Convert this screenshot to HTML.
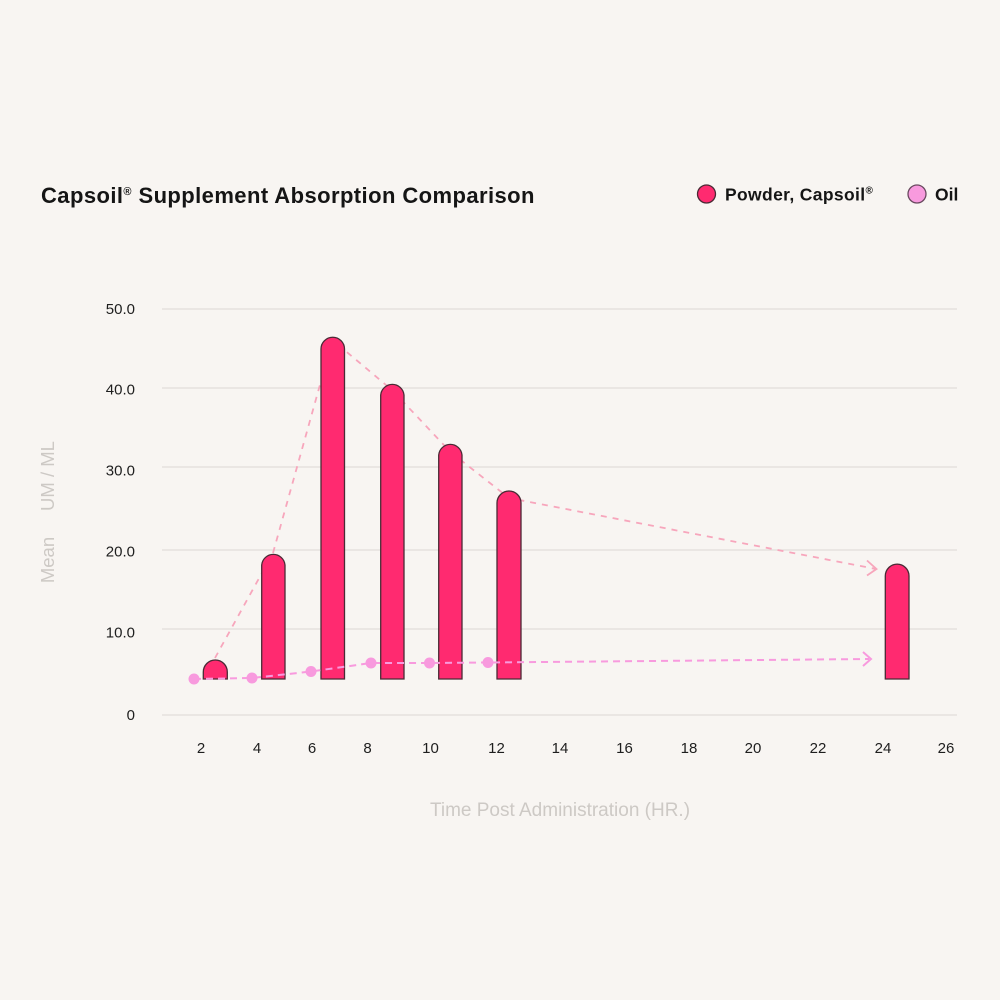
<!DOCTYPE html>
<html><head><meta charset="utf-8"><style>
html,body{margin:0;padding:0;background:#f8f5f2;}
svg{display:block;}
text{font-family:"Liberation Sans",Arial,sans-serif;}
</style></head><body>
<svg width="1000" height="1000" viewBox="0 0 1000 1000" xmlns="http://www.w3.org/2000/svg">
<rect width="1000" height="1000" fill="#f8f5f2"/>
<!-- title -->
<text x="41" y="203" font-size="22" font-weight="bold" fill="#151515" letter-spacing="0.42">Capsoil<tspan font-size="11" dy="-8">®</tspan><tspan dy="8"> Supplement Absorption Comparison</tspan></text>
<!-- legend -->
<circle cx="706.5" cy="194" r="9" fill="#ff2a70" stroke="#4a2a35" stroke-width="1.3"/>
<text x="725" y="200.5" font-size="17.5" font-weight="bold" fill="#151515" letter-spacing="0.35">Powder, Capsoil<tspan font-size="10" dy="-7">®</tspan></text>
<circle cx="917" cy="194" r="9" fill="#f89ade" stroke="#6a4a60" stroke-width="1.3"/>
<text x="935" y="200.5" font-size="17.5" font-weight="bold" fill="#151515">Oil</text>
<!-- gridlines -->
<g stroke="#e6e2de" stroke-width="1.5">
<line x1="162" y1="309" x2="957" y2="309"/>
<line x1="162" y1="388" x2="957" y2="388"/>
<line x1="162" y1="467" x2="957" y2="467"/>
<line x1="162" y1="550" x2="957" y2="550"/>
<line x1="162" y1="629" x2="957" y2="629"/>
<line x1="162" y1="715" x2="957" y2="715"/>
</g>
<!-- y tick labels -->
<g font-size="15" fill="#1e1e1e" text-anchor="end">
<text x="135" y="314">50.0</text>
<text x="135" y="394.5">40.0</text>
<text x="135" y="475.5">30.0</text>
<text x="135" y="556.5">20.0</text>
<text x="135" y="637.5">10.0</text>
<text x="135" y="720">0</text>
</g>
<!-- x tick labels -->
<g font-size="15" fill="#1e1e1e" text-anchor="middle">
<text x="201" y="753">2</text>
<text x="257" y="753">4</text>
<text x="312" y="753">6</text>
<text x="367.5" y="753">8</text>
<text x="430.5" y="753">10</text>
<text x="496.5" y="753">12</text>
<text x="560" y="753">14</text>
<text x="624.5" y="753">16</text>
<text x="689" y="753">18</text>
<text x="753" y="753">20</text>
<text x="818" y="753">22</text>
<text x="883" y="753">24</text>
<text x="946" y="753">26</text>
</g>
<!-- axis titles -->
<text x="560" y="816" font-size="19" fill="#cdc9c5" text-anchor="middle">Time Post Administration (HR.)</text>
<text transform="translate(54,560) rotate(-90)" font-size="18.5" fill="#cdc9c5" text-anchor="middle">Mean</text>
<text transform="translate(54,476) rotate(-90)" font-size="18.5" fill="#cdc9c5" text-anchor="middle">UM / ML</text>
<!-- powder line (behind bars) -->
<polyline points="215,658 273,553 332.5,340 392,390 450.5,452 509,498 876,569" fill="none" stroke="#f7a6bc" stroke-width="1.8" stroke-dasharray="6,6"/>
<polyline points="867,560.5 876.5,569 867,575.5" fill="none" stroke="#f7a6bc" stroke-width="1.8"/>
<!-- bars -->
<g fill="#ff2a70" stroke="#4a2a35" stroke-width="1.3">
<path d="M203.3,679 V672 A12,12 0 0 1 227.3,672 V679 Z"/>
<path d="M261.7,679 V565 A11.7,11.7 0 0 1 285,565 V679 Z"/>
<path d="M321,679 V349 A11.75,11.75 0 0 1 344.5,349 V679 Z"/>
<path d="M380.7,679 V395 A11.7,11.7 0 0 1 404,395 V679 Z"/>
<path d="M438.7,679 V455 A11.7,11.7 0 0 1 462,455 V679 Z"/>
<path d="M497,679 V503 A12,12 0 0 1 521,503 V679 Z"/>
<path d="M885.3,679 V576 A11.85,11.85 0 0 1 909,576 V679 Z"/>
</g>
<!-- oil line (on top) -->
<polyline points="194,679 252,678 311,671.5 371,663 429.5,663 488,662.5 869,659" fill="none" stroke="#f89ade" stroke-width="2" stroke-dasharray="7,5"/>
<polyline points="863,652 871,659 863,666" fill="none" stroke="#f89ade" stroke-width="2"/>
<g fill="#f89ade">
<circle cx="194" cy="679" r="5.5"/>
<circle cx="252" cy="678" r="5.5"/>
<circle cx="311" cy="671.5" r="5.5"/>
<circle cx="371" cy="663" r="5.5"/>
<circle cx="429.5" cy="663" r="5.5"/>
<circle cx="488" cy="662.5" r="5.5"/>
</g>
</svg>
</body></html>
